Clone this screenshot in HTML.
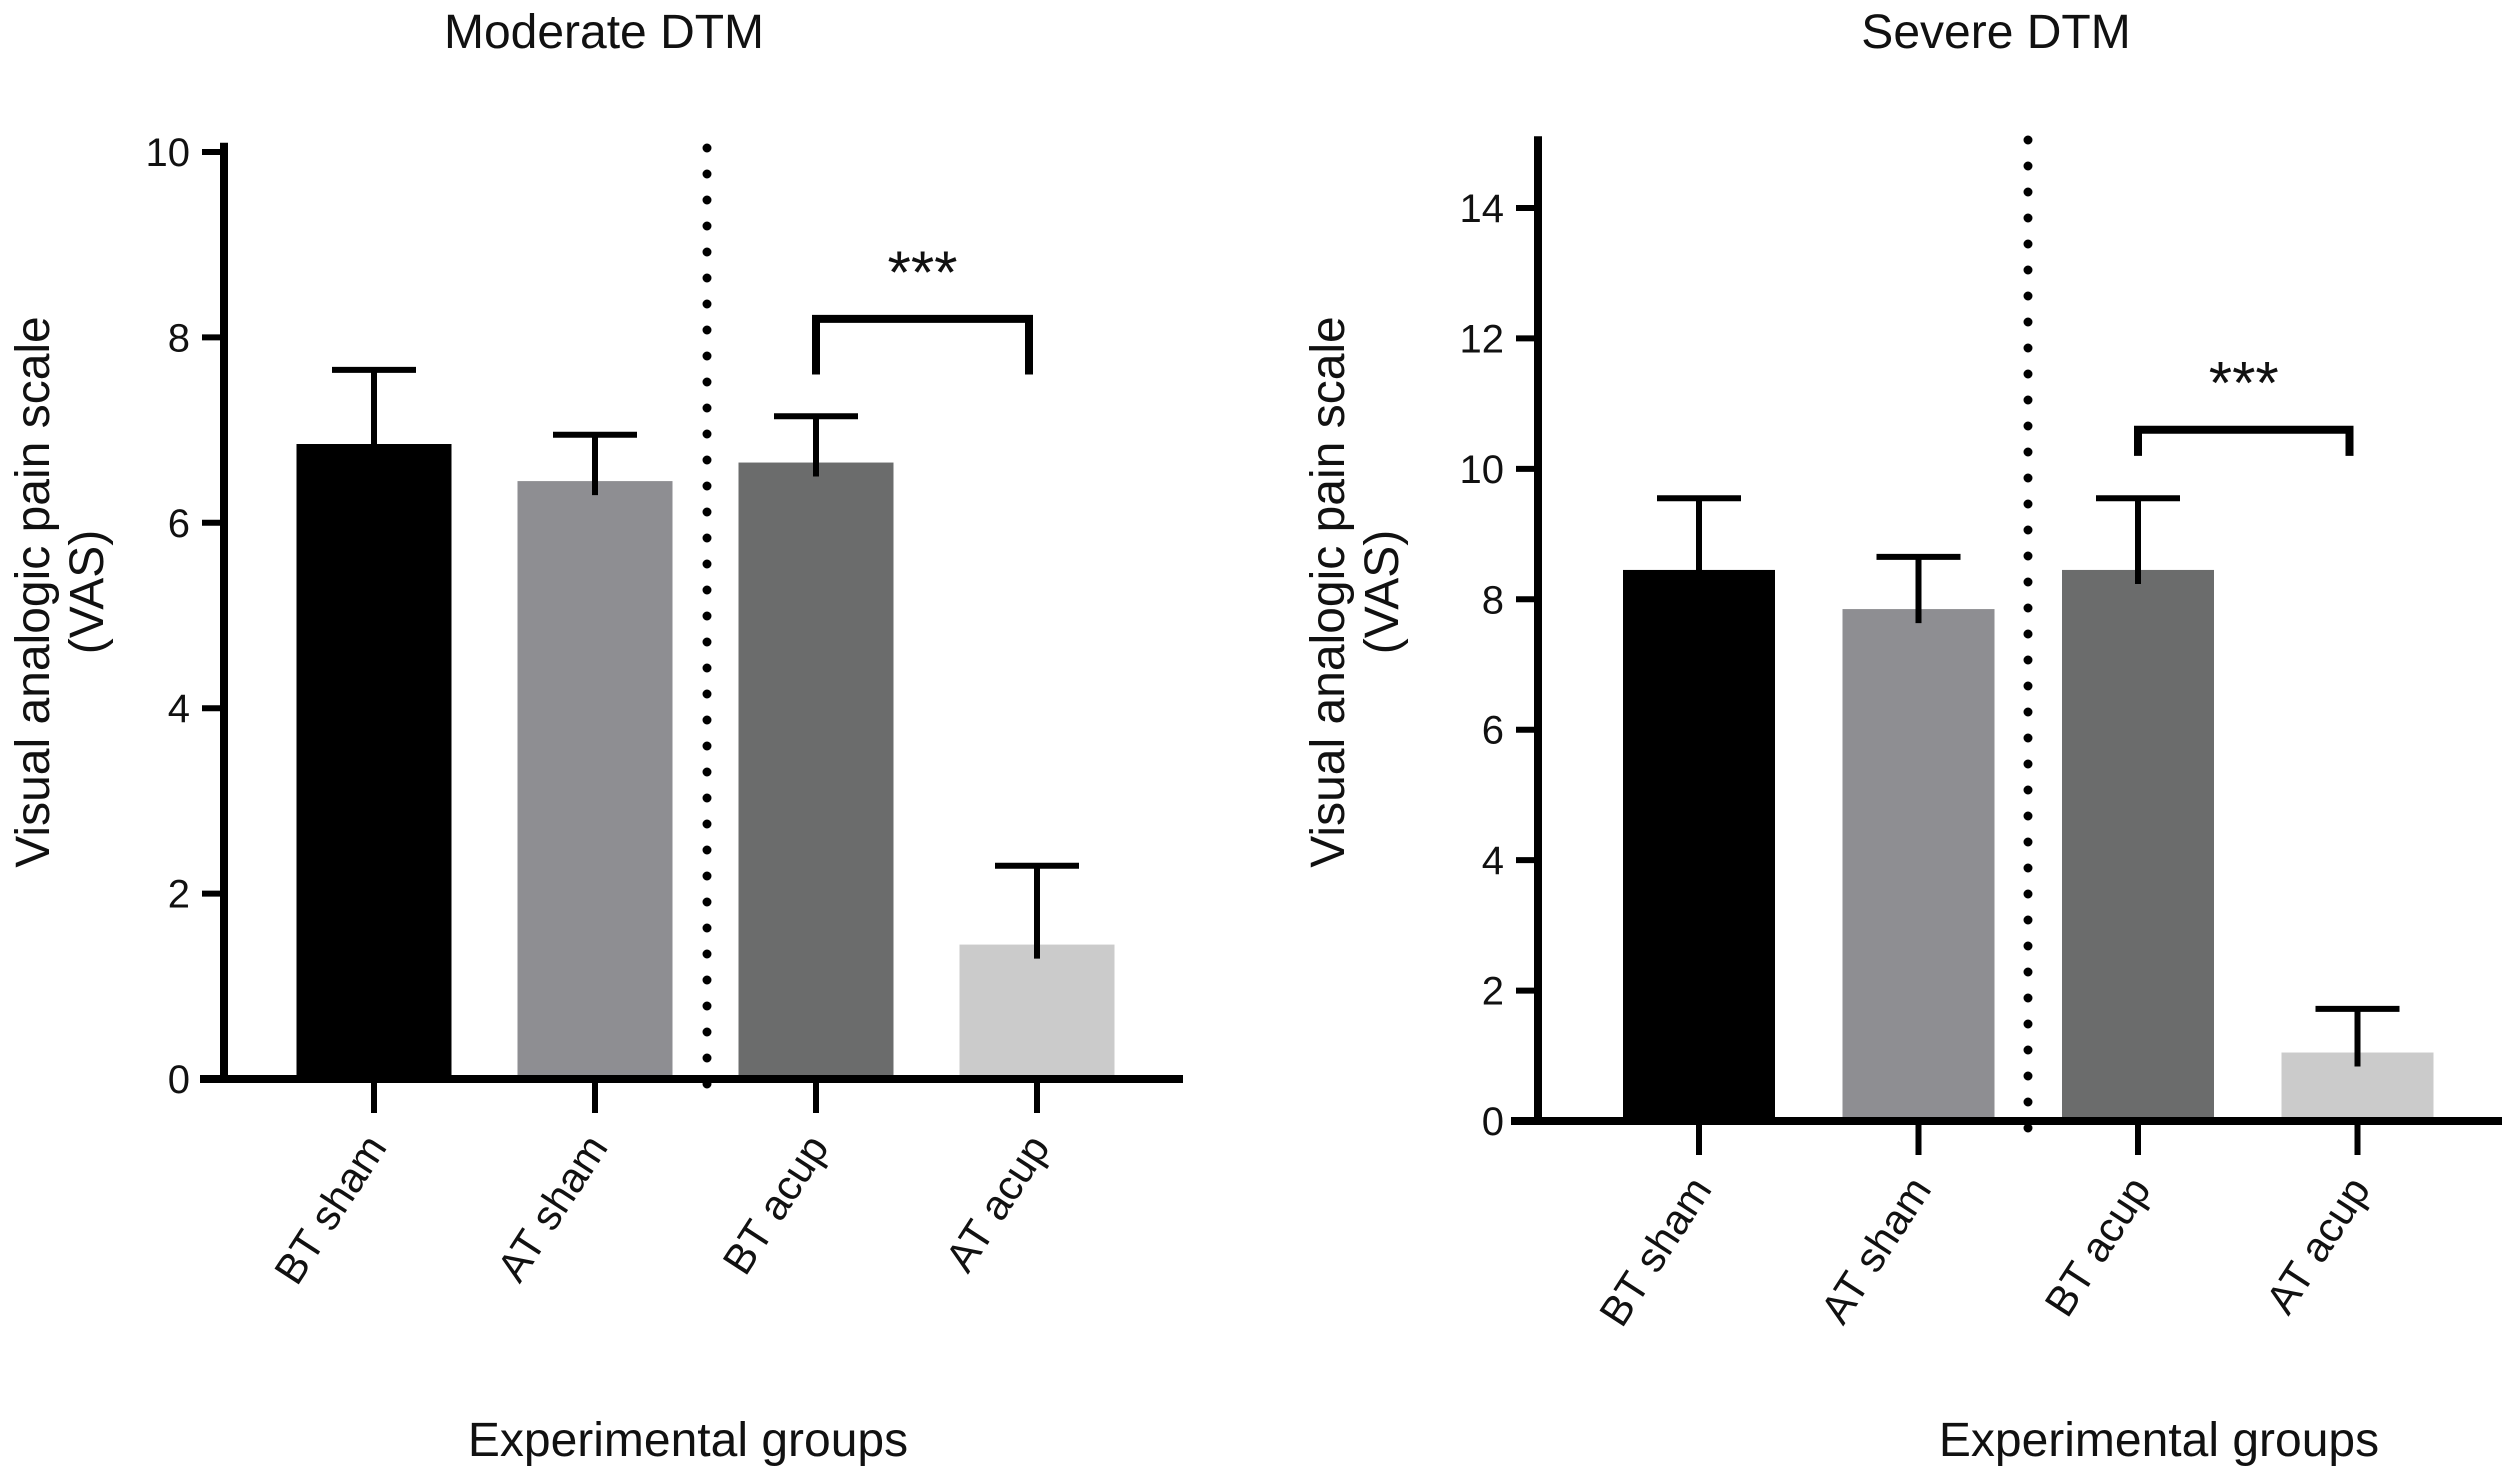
<!DOCTYPE html>
<html><head><meta charset="utf-8"><style>
html,body{margin:0;padding:0;background:#fff}
svg{display:block;font-family:"Liberation Sans",Arial,sans-serif}
</style></head><body>
<svg id="chart" width="2507" height="1470" viewBox="0 0 2507 1470" xmlns="http://www.w3.org/2000/svg"></svg>
<script>
const categories = ["BT sham","AT sham","BT acup","AT acup"];
const moderateValues = [6.85, 6.45, 6.65, 1.45];
const moderateErrors = [0.8, 0.5, 0.5, 0.85];
const severeValues = [8.45, 7.85, 8.45, 1.05];
const severeErrors = [1.1, 0.8, 1.1, 0.67];
const moderateTicks = [0,2,4,6,8,10];
const severeTicks = [0,2,4,6,8,10,12,14];
const barColors = ["#000000","#8e8e92","#6b6c6c","#cbcbcb"];
const moderateBracket = [8.2, 7.6];
const severeBracket = [10.6, 10.2];

const svg = document.getElementById('chart');
const NS = "http://www.w3.org/2000/svg";
function mk(tag, attrs, parent){const e=document.createElementNS(NS,tag);for(const k in attrs)e.setAttribute(k,attrs[k]);(parent||svg).appendChild(e);return e;}

function drawPanel(p){
  const g = mk('g',{});
  
  
  const y = v => p.y0 - v * (p.y0 - p.yTop) / p.yMax;
  const x = i => p.x0 + i * p.step;
  const t = mk('text',{x:p.titleX,y:48,'font-size':48,'text-anchor':'middle',fill:'#111'},g);
  t.textContent = p.title;
  
  
  p.values.forEach((v,i)=>{
    const r = mk('rect',{x:x(i)-p.bw/2,y:y(v),width:p.bw,height:p.y0-y(v),fill:barColors[i]},g);
    
    
    const top = v + p.errs[i];
    const eb = mk('path',{d:`M${x(i)},${y(v)+14} V${y(top)} M${x(i)-42},${y(top)} H${x(i)+42}`,stroke:'#000','stroke-width':6,fill:'none'},g);
    
    
  });
  const d = mk('line',{x1:p.divX,y1:p.divTop,x2:p.divX,y2:p.y0+8,stroke:'#000','stroke-width':9,'stroke-linecap':'round','stroke-dasharray':'0 26'},g);
  
  
  const ya = mk('line',{x1:p.axisX,y1:y(p.axisTopVal),x2:p.axisX,y2:p.y0+4,stroke:'#000','stroke-width':8},g);
  
  
  const xa = mk('line',{x1:p.xStart,y1:p.y0,x2:p.xEnd,y2:p.y0,stroke:'#000','stroke-width':8},g);
  
  
  p.ticks.forEach(tv=>{
    mk('line',{x1:p.axisX-22,y1:y(tv),x2:p.axisX,y2:y(tv),stroke:'#000','stroke-width':6},g);
    const tl = mk('text',{x:p.axisX-34,y:y(tv)+14,'font-size':40,'text-anchor':'end',fill:'#111'},g);
    tl.textContent = tv;
    
    
  });
  categories.forEach((c,i)=>{
    mk('line',{x1:x(i),y1:p.y0,x2:x(i),y2:p.y0+34,stroke:'#000','stroke-width':6},g);
    const tx = x(i)+14, ty = p.y0+68;
    const tl = mk('text',{x:tx,y:ty,'font-size':42,'text-anchor':'end',fill:'#111',transform:`rotate(-57 ${tx} ${ty})`},g);
    tl.textContent = c;
    
    
  });
  const bx1 = x(2), bx2 = x(3)-8;
  const br = mk('path',{d:`M${bx1},${y(p.bracket[1])} V${y(p.bracket[0])} H${bx2} V${y(p.bracket[1])}`,stroke:'#000','stroke-width':8,fill:'none'},g);
  
  
  const st = mk('text',{x:(bx1+bx2)/2,y:y(p.bracket[0])-26,'font-size':60,'text-anchor':'middle',fill:'#111'},g);
  st.textContent = '***';
  
  
  const yt = mk('text',{'font-size':48,'text-anchor':'middle',fill:'#111',transform:`translate(${p.yTitleX},592) rotate(-90)`},g);
  const l1 = mk('tspan',{x:0,y:0},yt); l1.textContent='Visual analogic pain scale';
  const l2 = mk('tspan',{x:0,y:54},yt); l2.textContent='(VAS)';
  
  
  const xt = mk('text',{x:p.xTitleX,y:1456,'font-size':48,'text-anchor':'middle',fill:'#111'},g);
  xt.textContent = 'Experimental groups';
  
  
}

drawPanel({id:'moderate',title:'Moderate DTM',titleX:604,values:moderateValues,errs:moderateErrors,ticks:moderateTicks,
  yMax:10,axisTopVal:10.1,y0:1079,yTop:152,axisX:224,xStart:200,xEnd:1183,x0:374,step:221,bw:155,divX:707,divTop:148,
  bracket:moderateBracket,yTitleX:49,xTitleX:688});
drawPanel({id:'severe',title:'Severe DTM',titleX:1996,values:severeValues,errs:severeErrors,ticks:severeTicks,
  yMax:14,axisTopVal:15.1,y0:1121,yTop:208,axisX:1538,xStart:1511,xEnd:2502,x0:1699,step:219.5,bw:152,divX:2028,divTop:140,
  bracket:severeBracket,yTitleX:1344,xTitleX:2159});
</script>
</body></html>
